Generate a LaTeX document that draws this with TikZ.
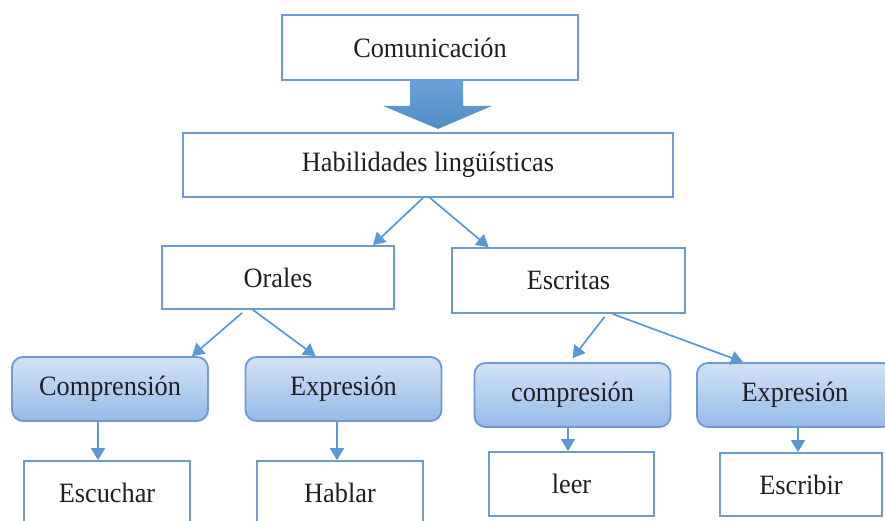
\documentclass[tikz,border=0pt]{standalone}
\usepackage{fontspec}
\setmainfont{Liberation Serif}[FakeStretch= 0.94]
\usepackage{tikz}
\usetikzlibrary{calc}
\usetikzlibrary{arrows.meta}

\definecolor{borde}{RGB}{108,154,209}
\definecolor{flecha}{RGB}{88,152,212}
\definecolor{claro}{RGB}{210,226,244}
\definecolor{oscuro}{RGB}{150,187,232}

\begin{document}
\begin{tikzpicture}[x= 1pt, y= -1pt,
	caja/.style= {draw= borde, line width= 1.8pt, fill= white, inner sep= 0pt,
		text= black!88, font= \fontsize{28}{32}\selectfont},
	cajasuave/.style= {caja, rounded corners= 11pt, top color= claro, bottom color= oscuro,
		minimum width= 196pt, minimum height= 64pt},
	conexion/.style= {draw= flecha, line width= 1.7pt, arrows= -{Triangle[length= 12pt, width= 14pt]}}]
	\useasboundingbox [fill= white] (0,0) rectangle (885,521);

	% cajas
	\node [caja, minimum width= 296pt, minimum height= 65pt] (com) at (430,47.5) {Comunicación};
	\node [caja, minimum width= 490pt, minimum height= 64pt] (hab) at (428,165) {Habilidades lingüísticas};
	\node [caja, minimum width= 232pt, minimum height= 63pt] (orales) at (278,277.5) {Orales};
	\node [caja, minimum width= 233pt, minimum height= 65pt] (escritas) at (568.5,280.5) {Escritas};

	\node [cajasuave] (comp1) at (110,389) {Comprensión};
	\node [cajasuave] (expr1) at (343.5,389) {Expresión};
	\node [cajasuave] (comp2) at (572.5,395) {compresión};
	\node [cajasuave] (expr2) at (795,395) {Expresión};

	\node [caja, minimum width= 166pt, minimum height= 64pt] (escuchar) at (107,493) {Escuchar};
	\node [caja, minimum width= 166pt, minimum height= 64pt] (hablar) at (340,493) {Hablar};
	\node [caja, minimum width= 165pt, minimum height= 64pt] (leer) at (571.5,484) {leer};
	\node [caja, minimum width= 162pt, minimum height= 63pt] (escribir) at (801,484.5) {Escribir};

	% flecha gruesa
	\shade [top color= flecha!90!white, bottom color= flecha!92!black]
		([xshift= -20pt]com.south) -- ++(53,0) -- ++(0,25) -- ++(29,0)
		-- ++(-54,23) -- ++(-55,-23) -- ++(27,0) -- cycle;

	% flechas
	\draw [conexion] ([xshift= -5pt]hab.south) -- ([xshift= 95pt]orales.north);
	\draw [conexion] ([xshift= 2pt]hab.south) -- ([xshift= -80pt]escritas.north);
	\draw [conexion] ([xshift= -36pt, yshift= -3pt]orales.south) -- ([xshift= 82pt]comp1.north);
	\draw [conexion] ([xshift= -25pt]orales.south) -- ([xshift= -28pt]expr1.north);
	\draw [conexion] ([xshift= 36pt, yshift= -3pt]escritas.south) -- ([yshift= 4pt]comp2.north);
	\draw [conexion] ([xshift= 44pt]escritas.south) -- ([xshift= -52pt]expr2.north);

	\draw [conexion] ([xshift= -12pt]comp1.south) -- ([xshift= -9pt]escuchar.north);
	\draw [conexion] ([xshift= -6.5pt]expr1.south) -- ([xshift= -3pt]hablar.north);
	\draw [conexion] ([xshift= -4.5pt]comp2.south) -- ([xshift= -3.5pt]leer.north);
	\draw [conexion] ([xshift= 3pt]expr2.south) -- ([xshift= -3pt]escribir.north);
\end{tikzpicture}
\end{document}
